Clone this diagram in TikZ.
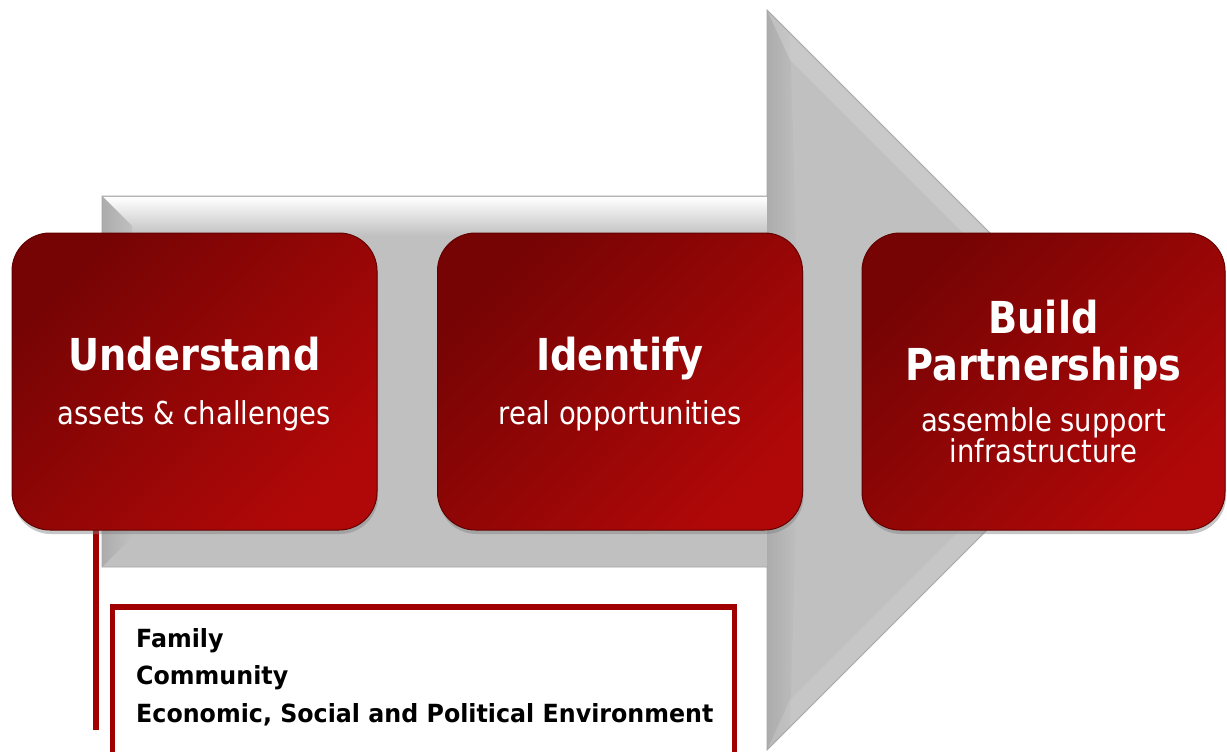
\documentclass[tikz,border=0pt]{standalone}
\usepackage{fontspec}
\setmainfont{DejaVu Sans}[FakeStretch=0.87]
\newfontfamily\listfont{DejaVu Sans}[FakeStretch=0.95]
\usetikzlibrary{shadows}
\definecolor{boxdark}{RGB}{118,4,4}
\definecolor{boxlight}{RGB}{176,8,8}
\definecolor{boxedge}{RGB}{100,0,0}
\definecolor{linered}{RGB}{160,0,0}
\definecolor{arrowgray}{RGB}{192,192,192}
\definecolor{arrowedge}{RGB}{165,165,165}
\definecolor{beveldark}{RGB}{172,172,172}
\definecolor{bevellight}{RGB}{214,214,214}
\tikzset{
  stepbox/.style={draw=boxedge, line width=1pt, rounded corners=38pt,
    top color=boxdark, bottom color=boxlight, shading angle=45,
    minimum width=365pt, minimum height=297pt, inner sep=0pt,
    drop shadow={shadow xshift=1pt, shadow yshift=-4pt, opacity=0.45}},
  title/.style={text=white, font=\fontsize{44}{47}\selectfont\bfseries, anchor=base, inner sep=0pt},
  subtitle/.style={text=white, font=\fontsize{31.5}{31}\selectfont, anchor=base, inner sep=0pt},
  listtext/.style={font=\listfont\fontsize{25}{30}\selectfont\bfseries, anchor=base west, inner sep=0pt},
  redline/.style={draw=linered, line width=6pt},
  arrowbody/.style={fill=arrowgray},
}
\begin{document}
\begin{tikzpicture}[x=1pt, y=-1pt]
\useasboundingbox (0,0) rectangle (1227,752);
\clip (0,0) rectangle (1227,752);
% big arrow
\fill[arrowbody] (102,196) -- (767,196) -- (767,10) -- (1137,380) -- (767,750) -- (767,567) -- (102,567) -- cycle;
\shade[top color=white, bottom color=arrowgray] (102,197) rectangle (767,236);
\shade[left color=beveldark, right color=arrowgray] (102,196) -- (132,226) -- (132,537) -- (102,567) -- cycle;
\shade[left color=beveldark, right color=arrowgray] (767,10) -- (790,33) -- (800,380) -- (790,727) -- (767,750) -- cycle;
\fill[bevellight, opacity=0.45] (767,10) -- (1137,380) -- (1110,380) -- (790,60) -- cycle;
\fill[bevellight, opacity=0.3] (767,750) -- (1137,380) -- (1110,380) -- (790,700) -- cycle;
\draw[arrowedge, line width=0.8pt] (102,196) -- (767,196) -- (767,10) -- (1137,380) -- (767,750) -- (767,567) -- (102,567) -- cycle;
% connector line
\coordinate (lend) at (96,730);
\coordinate (lstart) at (96,500);
\draw[redline] (lstart) -- (lend);
% steps
\node[stepbox] (u) at (194.5,381.5) {};
\node[stepbox] (i) at (620,381.5) {};
\node[stepbox, minimum width=363pt] (b) at (1043.5,381.5) {};
\node[title] (ut) at (194.5,370) {Understand};
\node[subtitle] (us) at (194.5,424) {assets \& challenges};
\node[title] (it) at (620,370) {Identify};
\node[subtitle] (is) at (620,424) {real opportunities};
\node[title] (bt1) at (1043.5,333) {Build};
\node[title] (bt2) at (1043.5,380) {Partnerships};
\node[subtitle] (bs1) at (1043.5,431) {assemble support};
\node[subtitle] (bs2) at (1043.5,462) {infrastructure};
% list box
\node[draw=linered, line width=5.5pt, fill=white, minimum width=622pt, minimum height=150pt, inner sep=0pt] (lst) at (423.5,682) {};
\node[listtext] (l1) at (136,647) {Family};
\node[listtext] (l2) at (136,684.5) {Community};
\node[listtext] (l3) at (136,722) {Economic, Social and Political Environment};
\end{tikzpicture}
\end{document}
